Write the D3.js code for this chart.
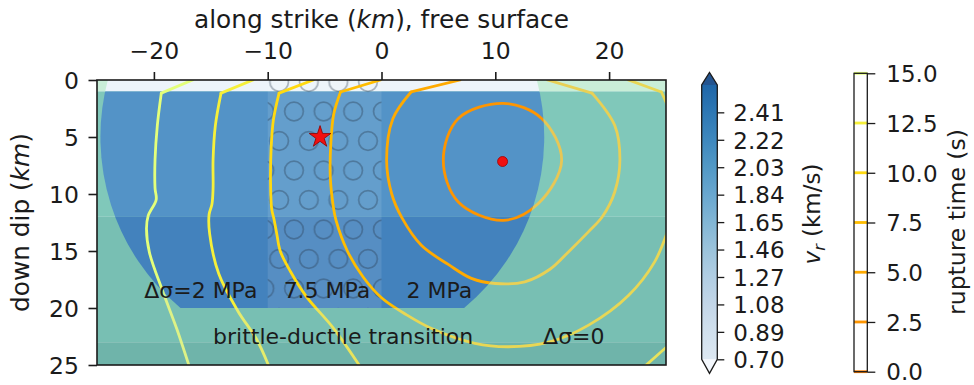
<!DOCTYPE html>
<html>
<head>
<meta charset="utf-8">
<script src="https://cdn.jsdelivr.net/npm/d3@7"></script>
<style>
  html, body { margin: 0; padding: 0; background: #fff; }
  svg { display: block; font-family: "DejaVu Sans", sans-serif; }
</style>
</head>
<body>
<svg id="chart" width="974" height="385"></svg>
<script>
// ---------------- data ----------------
const xTicks = [-20, -10, 0, 10, 20];
const yTicks = [0, 5, 10, 15, 20, 25];

// rupture-velocity colour levels (km/s) and their tick labels
const vrLevels = [0.70, 0.89, 1.08, 1.27, 1.46, 1.65, 1.84, 2.03, 2.22, 2.41, 2.60];
const vrTickValues = [0.70, 0.89, 1.08, 1.27, 1.46, 1.65, 1.84, 2.03, 2.22, 2.41];
const vrTickLabels = ["0.70", "0.89", "1.08", "1.27", "1.46", "1.65", "1.84", "2.03", "2.22", "2.41"];

// rupture-time contour levels (s)
const timeLevels = [0, 2.5, 5, 7.5, 10, 12.5, 15];
const timeTickLabels = ["0.0", "2.5", "5.0", "7.5", "10.0", "12.5", "15.0"];

// hypocentre (star) and front origin (dot), [along strike km, down dip km]
const hypocenter = [-5.4, 5.0];
const frontOrigin = [10.64, 7.15];

// loaded zone: disc (centre, radius) cut to a depth range
const zoneCenter = [-5.2, 5.0];
const zoneRadius = 19.5;
const zoneDepth = [0, 20];
// high-stress nucleation patch
const patchStrike = [-10, 0];
const patchDepth = [0, 20];
// depth layers: shallow layer, upper / lower seismogenic, transition, base
const layerDepths = [0, 1, 12, 20, 23, 25];

// rupture fronts, each as pieces of [strike, dip] points (km)
const front2_5 = [
  [[10.70, 2.05], [14.07, 3.37], [15.83, 7.04], [13.78, 10.84], [10.70, 12.31], [6.75, 10.70], [5.43, 7.04], [6.75, 3.37]]
];
const front5_0 = [
  [[6.9, 0], [2.6, 1.05]],
  [[2.6, 1.05], [1.0, 3.4], [0.45, 7.0], [0.9, 10.0], [1.8, 12.1], [3.5, 14.5], [5.9, 16.2], [7.9, 17.4], [10.0, 17.85],
   [12.6, 17.7], [14.8, 16.6], [16.4, 15.1], [18.2, 13.3], [19.4, 12.0], [20.5, 9.8], [20.95, 7.0], [20.5, 4.0], [18.5, 1.15]],
  [[18.5, 1.15], [14.6, 0]]
];
const front7_5 = [
  [[-0.1, 0], [-3.6, 1.05]],
  [[-3.6, 1.05], [-4.2, 3.0], [-4.45, 5.5], [-4.5, 8.5], [-4.25, 11.0], [-4.0, 12.3], [-3.0, 15.0], [-1.6, 17.3], [0.0, 19.1],
   [2.2, 20.6], [4.4, 21.8], [8.2, 23.1], [11.1, 23.4], [14.7, 23.0], [18.2, 21.5], [21.7, 18.9], [24.0, 15.95], [25.3, 12.8]],
  [[21.7, 0], [24.6, 1.05]],
  [[24.6, 1.05], [25.3, 2.6]]
];
const front10_0 = [
  [[-6.0, 0], [-9.0, 1.15]],
  [[-9.0, 1.15], [-9.5, 3.5], [-9.7, 6.0], [-9.75, 9.0], [-9.65, 11.3], [-9.45, 12.2], [-9.2, 13.5], [-8.9, 15.0],
   [-8.0, 16.8], [-6.6, 19.0], [-4.2, 21.8], [-1.9, 25.1]],
  [[23.15, 25.1], [25.3, 23.2]]
];
const front12_5 = [
  [[-11.3, 0], [-14.1, 1.15]],
  [[-14.1, 1.15], [-14.6, 4.0], [-14.8, 7.0], [-14.8, 9.5], [-14.9, 10.9], [-15.15, 11.8], [-15.1, 13.5], [-14.3, 17.0],
   [-12.6, 20.3], [-11.0, 22.7], [-9.9, 25.1]]
];
const front15_0 = [
  [[-16.6, 0], [-19.35, 1.15]],
  [[-19.35, 1.15], [-19.7, 4.0], [-19.9, 7.0], [-19.9, 9.5], [-19.8, 10.5], [-20.5, 11.9], [-20.65, 13.0], [-20.4, 15.1],
   [-19.2, 18.6], [-18.0, 21.8], [-16.9, 25.1]]
];
const fronts = [
  { t: 2.5, closed: true, pieces: front2_5 },
  { t: 5.0, pieces: front5_0 },
  { t: 7.5, pieces: front7_5 },
  { t: 10.0, pieces: front10_0 },
  { t: 12.5, pieces: front12_5 },
  { t: 15.0, pieces: front15_0 }
];

// region annotations: [text, strike km, dip km (baseline)]
const regionLabels = [
  ["Δσ=2 MPa", -20.85, 19.1],
  ["7.5 MPa", -8.6, 19.1],
  ["2 MPa", 2.2, 19.1],
  ["brittle-ductile transition", -14.8, 23.15],
  ["Δσ=0", 14.2, 23.15]
];

// ---------------- styles ----------------
const FONT_NOTE = 22, FONT_TICK = 23.5, FONT_CB = 23, FONT_TITLE = 24.8;
const INK = "#1b1b1b";
const layerOutside = ["#c9eed8", "#80c8ba", "#78bfb3", "#78bfb3", "#6fb4aa"];
const layerInside  = ["#edf4fa", "#5393c7", "#4382bd"];
const wistiaStops = ["#e4ff7a", "#ffe81a", "#ffbd00", "#ffa000", "#fc7f00"];
const wistia = d3.scaleLinear().domain([0, 0.25, 0.5, 0.75, 1]).range(wistiaStops);
const timeColor = t => wistia(1 - t / 15);
const veilColor = "#d9e98e";
const timeColorVeiled = t => d3.interpolateRgb(timeColor(t), veilColor)(0.6);
const vrColor = v => d3.interpolateRgb(d3.interpolateBlues(0.08 + 0.72 * (v - 0.70) / 1.90), "#6f7f90")(0.08);

// ---------------- layout ----------------
const svg = d3.select("#chart");
const x = d3.scaleLinear().domain([-25, 25]).range([97, 666]);
const y = d3.scaleLinear().domain([0, 25]).range([80, 365]);
const [X0, X1] = x.range(), [Y0, Y1] = y.range();

const defs = svg.append("defs");
defs.append("clipPath").attr("id", "plotClip")
  .append("rect").attr("x", X0).attr("y", Y0).attr("width", X1 - X0).attr("height", Y1 - Y0);

function zonePathD() {
  const [cx, cy] = zoneCenter, r = zoneRadius;
  const [d0, d1] = zoneDepth;
  const h0 = Math.sqrt(r * r - (d0 - cy) ** 2);
  const h1 = Math.sqrt(r * r - (d1 - cy) ** 2);
  const rx = Math.abs(x(r) - x(0)), ry = Math.abs(y(r) - y(0));
  return `M${x(cx - h0)},${y(d0)} L${x(cx + h0)},${y(d0)} ` +
         `A${rx},${ry} 0 0 1 ${x(cx + h1)},${y(d1)} L${x(cx - h1)},${y(d1)} ` +
         `A${rx},${ry} 0 0 1 ${x(cx - h0)},${y(d0)} Z`;
}
const zoneD = zonePathD();
defs.append("clipPath").attr("id", "zoneClip").append("path").attr("d", zoneD);
const mask = defs.append("mask").attr("id", "outsideMask")
  .attr("maskUnits", "userSpaceOnUse").attr("x", 0).attr("y", 0).attr("width", 974).attr("height", 385);
mask.append("rect").attr("x", 0).attr("y", 0).attr("width", 974).attr("height", 385).attr("fill", "#fff");
mask.append("path").attr("d", zoneD).attr("fill", "#000");

// circle hatch for the nucleation patch
const hx = 29.6, hy = 59;
const pat = defs.append("pattern").attr("id", "ringHatch").attr("patternUnits", "userSpaceOnUse")
  .attr("x", x(patchStrike[0]) + 11.5).attr("y", y(patchDepth[0]) + 2)
  .attr("width", hx).attr("height", hy);
[[0, 0], [hx, 0], [0, hy], [hx, hy], [hx / 2, hy / 2]].forEach(([cx, cy]) => {
  pat.append("circle").attr("cx", cx).attr("cy", cy).attr("r", 9.3)
    .attr("fill", "none").attr("stroke", "rgba(40,55,75,0.36)").attr("stroke-width", 1.7);
});

// smooth colour ramp for the velocity bar
const vrGrad = defs.append("linearGradient").attr("id", "vrRamp")
  .attr("x1", 0).attr("y1", 1).attr("x2", 0).attr("y2", 0);
vrLevels.forEach((v, i) => {
  vrGrad.append("stop").attr("offset", i / (vrLevels.length - 1)).attr("stop-color", vrColor(v));
});

const plot = svg.append("g").attr("clip-path", "url(#plotClip)");

// background layers (outside the loaded zone)
for (let i = 0; i < layerDepths.length - 1; i++) {
  plot.append("rect").attr("x", X0).attr("width", X1 - X0)
    .attr("y", y(layerDepths[i])).attr("height", y(layerDepths[i + 1]) - y(layerDepths[i]))
    .attr("fill", layerOutside[i]);
}
// loaded zone layers
const zone = plot.append("g").attr("clip-path", "url(#zoneClip)");
for (let i = 0; i < 3; i++) {
  zone.append("rect").attr("x", X0).attr("width", X1 - X0)
    .attr("y", y(layerDepths[i])).attr("height", y(layerDepths[i + 1]) - y(layerDepths[i]))
    .attr("fill", layerInside[i]);
}
// nucleation patch
const px0 = x(patchStrike[0]), px1 = x(patchStrike[1]), py0 = y(patchDepth[0]), py1 = y(patchDepth[1]);
plot.append("rect").attr("x", px0).attr("y", py0).attr("width", px1 - px0).attr("height", py1 - py0)
  .attr("fill", "#fff").attr("fill-opacity", 0.1);
plot.append("rect").attr("x", px0).attr("y", py0).attr("width", px1 - px0).attr("height", py1 - py0)
  .attr("fill", "url(#ringHatch)");

// rupture-time fronts
const lineOpen = d3.line().x(d => x(d[0])).y(d => y(d[1])).curve(d3.curveCatmullRom.alpha(0.5));
const lineClosed = d3.line().x(d => x(d[0])).y(d => y(d[1])).curve(d3.curveCatmullRomClosed.alpha(0.5));
function drawFronts(g, colorOf) {
  fronts.forEach(f => {
    f.pieces.forEach(p => {
      g.append("path").attr("d", (f.closed ? lineClosed : lineOpen)(p))
        .attr("fill", "none").attr("stroke", colorOf(f.t)).attr("stroke-width", 2.8)
        .attr("stroke-linecap", "round").attr("stroke-linejoin", "round");
    });
  });
}
drawFronts(plot.append("g").attr("clip-path", "url(#zoneClip)"), timeColor);
drawFronts(plot.append("g").attr("mask", "url(#outsideMask)"), timeColorVeiled);

// region labels
regionLabels.forEach(([txt, sx, dy]) => {
  plot.append("text").attr("x", x(sx)).attr("y", y(dy)).attr("font-size", FONT_NOTE)
    .attr("fill", INK).text(txt);
});

// hypocentre and front origin
plot.append("path").attr("d", d3.symbol(d3.symbolStar, 146)())
  .attr("transform", `translate(${x(hypocenter[0])},${y(hypocenter[1])})`)
  .attr("fill", "#f01010").attr("stroke", "#8a0000").attr("stroke-width", 0.8);
plot.append("circle").attr("cx", x(frontOrigin[0])).attr("cy", y(frontOrigin[1])).attr("r", 5)
  .attr("fill", "#f01010").attr("stroke", "#a00000").attr("stroke-width", 0.8);

// frame
svg.append("rect").attr("x", X0).attr("y", Y0).attr("width", X1 - X0).attr("height", Y1 - Y0)
  .attr("fill", "none").attr("stroke", INK).attr("stroke-width", 1.6);

// axes
const fmtMinus = d => (d < 0 ? "\u2212" + Math.abs(d) : String(d));
const xAxis = svg.append("g").attr("transform", `translate(0,${Y0})`)
  .call(d3.axisTop(x).tickValues(xTicks).tickFormat(fmtMinus).tickSize(8).tickPadding(13).tickSizeOuter(0));
const yAxis = svg.append("g").attr("transform", `translate(${X0},0)`)
  .call(d3.axisLeft(y).tickValues(yTicks).tickSize(8.5).tickPadding(9.5).tickSizeOuter(0));
[xAxis, yAxis].forEach(a => {
  a.select(".domain").remove();
  a.selectAll(".tick line").attr("stroke", INK).attr("stroke-width", 1.6);
  a.selectAll(".tick text").attr("font-size", FONT_TICK).attr("fill", INK)
    .attr("font-family", "DejaVu Sans, sans-serif");
});
yAxis.selectAll(".tick text").attr("dy", "0.36em");

// axis titles
const xt = svg.append("text").attr("x", (X0 + X1) / 2).attr("y", 28).attr("text-anchor", "middle")
  .attr("font-size", FONT_TITLE).attr("fill", INK);
xt.append("tspan").text("along strike (");
xt.append("tspan").attr("font-style", "italic").text("km");
xt.append("tspan").text("), free surface");

const yt = svg.append("text").attr("transform", `translate(29,${(Y0 + Y1) / 2}) rotate(-90)`)
  .attr("text-anchor", "middle").attr("font-size", FONT_TITLE).attr("fill", INK);
yt.append("tspan").text("down dip (");
yt.append("tspan").attr("font-style", "italic").text("km");
yt.append("tspan").text(")");

// ---------------- rupture-velocity colour bar ----------------
const cb1 = { x0: 701.7, x1: 717.3, top: 84.9, bottom: 359.3, ext: 12.5 };
const yv = d3.scaleLinear().domain([vrLevels[0], vrLevels[vrLevels.length - 1]]).range([cb1.bottom, cb1.top]);
svg.append("rect").attr("x", cb1.x0).attr("width", cb1.x1 - cb1.x0)
  .attr("y", yv(vrLevels[vrLevels.length - 1])).attr("height", yv(vrLevels[0]) - yv(vrLevels[vrLevels.length - 1]))
  .attr("fill", "url(#vrRamp)");
const cmid = (cb1.x0 + cb1.x1) / 2;
svg.append("path").attr("d", `M${cb1.x0},${cb1.top} L${cmid},${cb1.top - cb1.ext} L${cb1.x1},${cb1.top} Z`)
  .attr("fill", "#24548f");
svg.append("path").attr("d", `M${cb1.x0},${cb1.bottom} L${cmid},${cb1.bottom + cb1.ext + 1.5} L${cb1.x1},${cb1.bottom} Z`)
  .attr("fill", "#f3f7fc");
svg.append("path")
  .attr("d", `M${cb1.x0},${cb1.top} L${cmid},${cb1.top - cb1.ext} L${cb1.x1},${cb1.top} L${cb1.x1},${cb1.bottom} ` +
             `L${cmid},${cb1.bottom + cb1.ext + 1.5} L${cb1.x0},${cb1.bottom} Z`)
  .attr("fill", "none").attr("stroke", INK).attr("stroke-width", 1.3);
const cb1Axis = svg.append("g").attr("transform", `translate(${cb1.x1},0)`)
  .call(d3.axisRight(yv).tickValues(vrTickValues).tickFormat((d, i) => vrTickLabels[i])
    .tickSize(7).tickPadding(9).tickSizeOuter(0));
cb1Axis.select(".domain").remove();
cb1Axis.selectAll(".tick line").attr("stroke", INK).attr("stroke-width", 1.3);
cb1Axis.selectAll(".tick text").attr("font-size", FONT_CB).attr("fill", INK).attr("dy", "0.36em")
  .attr("font-family", "DejaVu Sans, sans-serif");
const vl = svg.append("text").attr("transform", `translate(820,214) rotate(-90)`)
  .attr("text-anchor", "middle").attr("font-size", FONT_CB).attr("fill", INK);
vl.append("tspan").attr("font-style", "italic").text("v");
vl.append("tspan").attr("font-style", "italic").attr("font-size", FONT_CB * 0.7).attr("dy", 5).text("r");
vl.append("tspan").attr("dy", -5).text(" (km/s)");

// ---------------- rupture-time colour bar ----------------
const cb2 = { x0: 854, x1: 867.3, top: 73.3, bottom: 371.7 };
const yt2 = d3.scaleLinear().domain([timeLevels[0], timeLevels[timeLevels.length - 1]]).range([cb2.bottom, cb2.top]);
svg.append("rect").attr("x", cb2.x0).attr("y", cb2.top).attr("width", cb2.x1 - cb2.x0).attr("height", cb2.bottom - cb2.top)
  .attr("fill", "#fff");
timeLevels.forEach(t => {
  svg.append("line").attr("x1", cb2.x0).attr("x2", cb2.x1).attr("y1", yt2(t)).attr("y2", yt2(t))
    .attr("stroke", timeColor(t)).attr("stroke-width", 2.8);
});
svg.append("rect").attr("x", cb2.x0).attr("y", cb2.top).attr("width", cb2.x1 - cb2.x0).attr("height", cb2.bottom - cb2.top)
  .attr("fill", "none").attr("stroke", INK).attr("stroke-width", 1.3);
const cb2Axis = svg.append("g").attr("transform", `translate(${cb2.x1},0)`)
  .call(d3.axisRight(yt2).tickValues(timeLevels).tickFormat((d, i) => timeTickLabels[i])
    .tickSize(8).tickPadding(11).tickSizeOuter(0));
cb2Axis.select(".domain").remove();
cb2Axis.selectAll(".tick line").attr("stroke", INK).attr("stroke-width", 1.3);
cb2Axis.selectAll(".tick text").attr("font-size", FONT_CB).attr("fill", INK).attr("dy", "0.36em")
  .attr("font-family", "DejaVu Sans, sans-serif");
svg.append("text").attr("transform", `translate(965,222) rotate(-90)`)
  .attr("text-anchor", "middle").attr("font-size", FONT_CB + 0.5).attr("fill", INK).text("rupture time (s)");
</script>
</body>
</html>
